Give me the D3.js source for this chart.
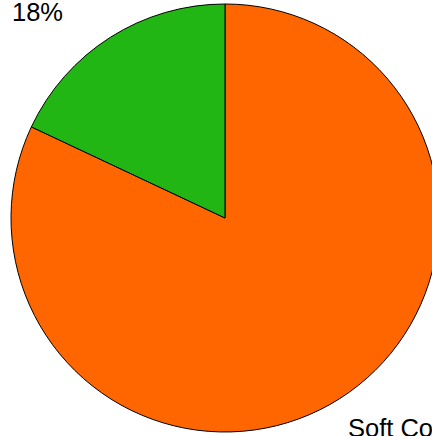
<!DOCTYPE html>
<html>
<head>
<meta charset="utf-8">
<script src="https://cdn.jsdelivr.net/npm/d3@7"></script>
<style>
  html,body{margin:0;padding:0;background:#fff;overflow:hidden;}
  svg{display:block;}
</style>
</head>
<body>
<svg id="svg" width="432" height="436"></svg>
<script>
// slices, clockwise from 12 o'clock
const categories=["Soft Commodities","Other"];
const values=[82,18];
const colors=["#ff6600","#22b614"];
const labels=["Soft Commodities","18%"];

const width=432, height=436;
const cx=225, cy=218, radius=214;

var svg=d3.select("#svg");

var pie=d3.pie().sort(null).value(d=>d.value);
var arc=d3.arc().innerRadius(0).outerRadius(radius);

var data=categories.map((c,i)=>({name:c,value:values[i],color:colors[i],label:labels[i]}));

var g=svg.append("g")
        .attr("transform","translate("+cx+","+cy+")");

g.selectAll("path")
    .data(pie(data)).enter().append("path")
        .attr("d",arc)
        .attr("fill",d=>d.data.color)
        .attr("stroke","#000")
        .attr("stroke-width",1)
        .attr("stroke-linejoin","round");

//labels sit outside the pie (partly clipped like the original)
var labelPos=[
    {x:348-cx,y:437-cy,anchor:"start"},
    {x:12-cx,y:21-cy,anchor:"start"}
];

g.selectAll("text")
    .data(pie(data)).enter().append("text")
        .attr("x",(d,i)=>labelPos[i].x)
        .attr("y",(d,i)=>labelPos[i].y)
        .attr("text-anchor",(d,i)=>labelPos[i].anchor)
        .style("font-family","Liberation Sans, Arial, sans-serif")
        .style("font-size","25.5px")
        .style("fill","#000")
        .text(d=>d.data.label);
</script>
</body>
</html>
